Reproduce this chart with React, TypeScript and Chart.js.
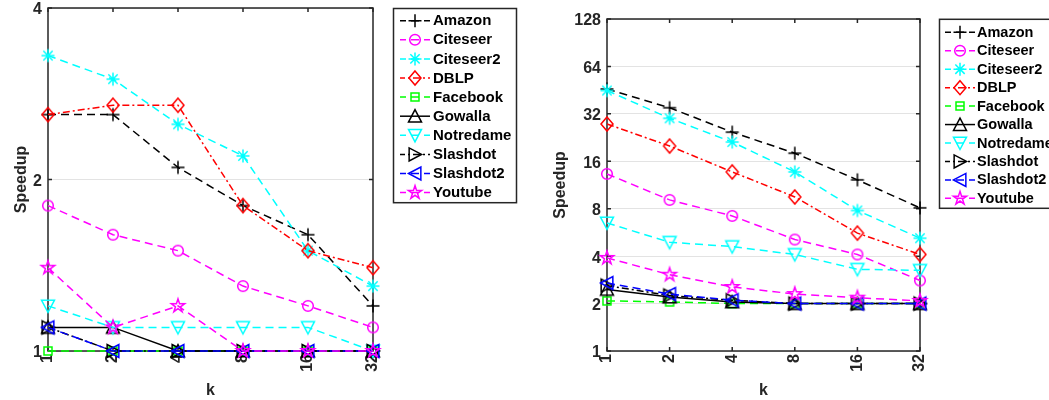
import React, { useEffect, useRef } from 'react';
import { Chart, registerables } from 'chart.js';

Chart.register(...registerables);

// ---------------- data ----------------
const kLabels = ['1', '2', '4', '8', '16', '32'];
const seriesNames = ['Amazon', 'Citeseer', 'Citeseer2', 'DBLP', 'Facebook', 'Gowalla', 'Notredame', 'Slashdot', 'Slashdot2', 'Youtube'];

// left panel (speedup)
const leftAmazon = [2.6, 2.6, 2.1, 1.8, 1.6, 1.2];
const leftCiteseer = [1.8, 1.6, 1.5, 1.3, 1.2, 1.1];
const leftCiteseer2 = [3.3, 3.0, 2.5, 2.2, 1.5, 1.3];
const leftDBLP = [2.6, 2.7, 2.7, 1.8, 1.5, 1.4];
const leftFacebook = [1, 1, 1, 1, 1, 1];
const leftGowalla = [1.1, 1.1, 1, 1, 1, 1];
const leftNotredame = [1.2, 1.1, 1.1, 1.1, 1.1, 1.0];
const leftSlashdot = [1.1, 1, 1, 1, 1, 1];
const leftSlashdot2 = [1.1, 1, 1, 1, 1, 1];
const leftYoutube = [1.4, 1.1, 1.2, 1, 1, 1];

// right panel (speedup)
const rightAmazon = [46, 35, 24.5, 18, 12.2, 8.1];
const rightCiteseer = [13.3, 9.1, 7.2, 5.1, 4.1, 2.8];
const rightCiteseer2 = [45, 30, 21.2, 13.7, 7.8, 5.2];
const rightDBLP = [27.6, 20, 13.7, 9.5, 5.6, 4.1];
const rightFacebook = [2.08, 2.05, 2.0, 2.0, 2.0, 2.0];
const rightGowalla = [2.46, 2.2, 2.05, 2, 2, 2];
const rightNotredame = [6.5, 4.9, 4.6, 4.1, 3.3, 3.25];
const rightSlashdot = [2.6, 2.25, 2.1, 2, 2, 2];
const rightSlashdot2 = [2.7, 2.3, 2.1, 2, 2, 2];
const rightYoutube = [3.9, 3.05, 2.55, 2.3, 2.18, 2.08];

const leftYTicks = [1, 2, 4];
const rightYTicks = [1, 2, 4, 8, 16, 32, 64, 128];

// ---------------- styles ----------------
const seriesColors = ['#000000', '#ff00ff', '#00ffff', '#ff0000', '#00ff00', '#000000', '#00ffff', '#000000', '#0000ff', '#ff00ff'];
const seriesLineStyles = ['--', '--', '--', '-.', '--', '-', '--', '-.', '--', '--'];
const seriesMarkers = ['+', 'o', '*', 'd', 's', '^', 'v', '>', '<', 'p'];

const FONT_FAMILY = '"Liberation Sans", Arial, Helvetica, sans-serif';
const AXIS_COLOR = '#262626';
const GRID_COLOR = '#e3e3e3';

function dashFor(style: string): number[] {
  if (style === '--') return [8, 5];
  if (style === '-.') return [7, 3, 2, 3];
  return [];
}

function drawMarker(ctx: CanvasRenderingContext2D, kind: string, x: number, y: number, color: string) {
  ctx.save();
  ctx.strokeStyle = color;
  ctx.lineWidth = 1.5;
  ctx.setLineDash([]);
  ctx.lineJoin = 'miter';
  ctx.beginPath();
  switch (kind) {
    case '+': {
      const r = 6.5;
      ctx.moveTo(x - r, y); ctx.lineTo(x + r, y);
      ctx.moveTo(x, y - r); ctx.lineTo(x, y + r);
      break;
    }
    case 'o': {
      ctx.arc(x, y, 5.3, 0, Math.PI * 2);
      break;
    }
    case '*': {
      const r = 6.5; const d = r * 0.72;
      ctx.moveTo(x - r, y); ctx.lineTo(x + r, y);
      ctx.moveTo(x, y - r); ctx.lineTo(x, y + r);
      ctx.moveTo(x - d, y - d); ctx.lineTo(x + d, y + d);
      ctx.moveTo(x - d, y + d); ctx.lineTo(x + d, y - d);
      break;
    }
    case 'd': {
      const w = 6, h = 7;
      ctx.moveTo(x, y - h); ctx.lineTo(x + w, y); ctx.lineTo(x, y + h); ctx.lineTo(x - w, y); ctx.closePath();
      break;
    }
    case 's': {
      const h = 4;
      ctx.rect(x - h, y - h, 2 * h, 2 * h);
      break;
    }
    case '^': {
      const r = 6.5;
      ctx.moveTo(x, y - r); ctx.lineTo(x + r, y + r * 0.9); ctx.lineTo(x - r, y + r * 0.9); ctx.closePath();
      break;
    }
    case 'v': {
      const r = 6.5;
      ctx.moveTo(x, y + r); ctx.lineTo(x + r, y - r * 0.9); ctx.lineTo(x - r, y - r * 0.9); ctx.closePath();
      break;
    }
    case '>': {
      const r = 6.5;
      ctx.moveTo(x + r, y); ctx.lineTo(x - r * 0.9, y - r); ctx.lineTo(x - r * 0.9, y + r); ctx.closePath();
      break;
    }
    case '<': {
      const r = 6.5;
      ctx.moveTo(x - r, y); ctx.lineTo(x + r * 0.9, y - r); ctx.lineTo(x + r * 0.9, y + r); ctx.closePath();
      break;
    }
    case 'p': {
      const R = 7; const rr = R * 0.382;
      for (let i = 0; i < 10; i++) {
        const ang = -Math.PI / 2 + (i * Math.PI) / 5;
        const rad = i % 2 === 0 ? R : rr;
        const px = x + rad * Math.cos(ang);
        const py = y + rad * Math.sin(ang);
        if (i === 0) ctx.moveTo(px, py); else ctx.lineTo(px, py);
      }
      ctx.closePath();
      break;
    }
  }
  ctx.stroke();
  ctx.restore();
}

function makeMarkerImage(kind: string, color: string): HTMLCanvasElement {
  const c = document.createElement('canvas');
  c.width = 20; c.height = 20;
  const ctx = c.getContext('2d')!;
  drawMarker(ctx, kind, 10, 10, color);
  return c;
}

const boxPlugin = {
  id: 'matlabBox',
  beforeDatasetsDraw(chart: any) {
    const { ctx, chartArea } = chart;
    const { left, right, top, bottom } = chartArea;
    const xs = chart.scales.x;
    const ys = chart.scales.y;
    ctx.save();
    ctx.strokeStyle = AXIS_COLOR;
    ctx.lineWidth = 1.5;
    ctx.setLineDash([]);
    ctx.strokeRect(left, top, right - left, bottom - top);
    ctx.beginPath();
    const tl = 4;
    for (let i = 0; i < xs.ticks.length; i++) {
      const x = xs.getPixelForTick(i);
      ctx.moveTo(x, bottom); ctx.lineTo(x, bottom - tl);
      ctx.moveTo(x, top); ctx.lineTo(x, top + tl);
    }
    for (const t of ys.ticks) {
      const y = ys.getPixelForValue(t.value);
      ctx.moveTo(left, y); ctx.lineTo(left + tl, y);
      ctx.moveTo(right, y); ctx.lineTo(right - tl, y);
    }
    ctx.stroke();
    ctx.restore();
  },
};

interface LegendCfg {
  boxX: number; boxY: number; boxW: number; boxH: number;
  rowY0: number; rowDy: number; lineX0: number; lineX1: number; markerX: number; textX: number; fontSize: number;
}

function legendPlugin(cfg: LegendCfg) {
  return {
    id: 'matlabLegend',
    afterDraw(chart: any) {
      const ctx: CanvasRenderingContext2D = chart.ctx;
      ctx.save();
      ctx.fillStyle = '#ffffff';
      ctx.fillRect(cfg.boxX, cfg.boxY, cfg.boxW, cfg.boxH);
      ctx.strokeStyle = AXIS_COLOR;
      ctx.lineWidth = 1.5;
      ctx.setLineDash([]);
      ctx.strokeRect(cfg.boxX, cfg.boxY, cfg.boxW, cfg.boxH);
      seriesNames.forEach((name, i) => {
        const y = cfg.rowY0 + i * cfg.rowDy;
        ctx.save();
        ctx.strokeStyle = seriesColors[i];
        ctx.lineWidth = 1.5;
        ctx.setLineDash(dashFor(seriesLineStyles[i]));
        ctx.lineDashOffset = 2;
        ctx.beginPath();
        ctx.moveTo(cfg.lineX0, y); ctx.lineTo(cfg.lineX1, y);
        ctx.stroke();
        ctx.restore();
        drawMarker(ctx, seriesMarkers[i], cfg.markerX, y, seriesColors[i]);
        ctx.fillStyle = '#000000';
        ctx.font = `bold ${cfg.fontSize}px ${FONT_FAMILY}`;
        ctx.textBaseline = 'middle';
        ctx.textAlign = 'left';
        ctx.fillText(name, cfg.textX, y + 0.5);
      });
      ctx.restore();
    },
  };
}

interface PanelCfg {
  series: number[][];
  yMax: number;
  yTicks: number[];
  padTop: number;
  padRight: number;
  yW: number;
  xH: number;
  titlePad: number;
  legend: LegendCfg;
}

function makeChart(canvas: HTMLCanvasElement, cfg: PanelCfg) {
  const font = { family: FONT_FAMILY, size: 16, weight: 'bold' as const };
  const markerImgs = seriesMarkers.map((m, i) => makeMarkerImage(m, seriesColors[i]));
  return new Chart(canvas, {
    type: 'line',
    data: {
      labels: kLabels,
      datasets: cfg.series.map((vals, i) => ({
        label: seriesNames[i],
        data: vals,
        borderColor: seriesColors[i],
        backgroundColor: seriesColors[i],
        borderWidth: 1.5,
        borderDash: dashFor(seriesLineStyles[i]),
        pointStyle: markerImgs[i],
        pointRadius: 6,
        pointHoverRadius: 6,
        fill: false,
        tension: 0,
        clip: false,
        order: seriesNames.length - i,
      })),
    },
    options: {
      responsive: false,
      animation: false,
      events: [],
      layout: { padding: { left: 0, top: cfg.padTop, right: cfg.padRight, bottom: 0 } },
      plugins: { legend: { display: false }, tooltip: { enabled: false } },
      scales: {
        x: {
          type: 'category',
          offset: false,
          grid: { display: false, drawTicks: false },
          border: { display: false },
          ticks: { minRotation: 90, maxRotation: 90, autoSkip: false, padding: 3, font, color: AXIS_COLOR },
          title: { display: true, text: 'k', font, color: AXIS_COLOR, padding: { top: 0, bottom: 0 } },
          afterFit: (s: any) => { s.height = cfg.xH; s.paddingLeft = 0; s.paddingRight = 0; },
        },
        y: {
          type: 'logarithmic',
          min: 1,
          max: cfg.yMax,
          grid: { color: GRID_COLOR, drawTicks: false, lineWidth: 1 },
          border: { display: false },
          ticks: { padding: 6, labelOffset: 2, font, color: AXIS_COLOR, autoSkip: false, callback: (v: any) => String(v) },
          afterBuildTicks: (s: any) => { s.ticks = cfg.yTicks.map((v) => ({ value: v })); },
          title: { display: true, text: 'Speedup', font, color: AXIS_COLOR, padding: { top: cfg.titlePad, bottom: 0 } },
          afterFit: (s: any) => { s.width = cfg.yW; s.paddingTop = 0; s.paddingBottom = 0; },
        },
      },
    } as any,
    plugins: [boxPlugin, legendPlugin(cfg.legend)],
  });
}

function Panel({ left, width, cfg }: { left: number; width: number; cfg: PanelCfg }) {
  const ref = useRef<HTMLCanvasElement>(null);
  useEffect(() => {
    if (!ref.current) return;
    const chart = makeChart(ref.current, cfg);
    return () => chart.destroy();
  }, []);
  return (
    <canvas
      ref={ref}
      width={width}
      height={400}
      style={{ position: 'absolute', left, top: 0, width, height: 400 }}
    />
  );
}

const leftCfg: PanelCfg = {
  series: [leftAmazon, leftCiteseer, leftCiteseer2, leftDBLP, leftFacebook, leftGowalla, leftNotredame, leftSlashdot, leftSlashdot2, leftYoutube],
  yMax: 4,
  yTicks: leftYTicks,
  padTop: 8,
  padRight: 147,
  yW: 48,
  xH: 49,
  titlePad: 12,
  legend: { boxX: 393.5, boxY: 8.5, boxW: 123, boxH: 194.2, rowY0: 20.7, rowDy: 19.1, lineX0: 400, lineX1: 430, markerX: 415, textX: 433, fontSize: 15 },
};

const rightCfg: PanelCfg = {
  series: [rightAmazon, rightCiteseer, rightCiteseer2, rightDBLP, rightFacebook, rightGowalla, rightNotredame, rightSlashdot, rightSlashdot2, rightYoutube],
  yMax: 128,
  yTicks: rightYTicks,
  padTop: 19,
  padRight: 129,
  yW: 87,
  xH: 49,
  titlePad: 30.9,
  legend: { boxX: 419.5, boxY: 19.3, boxW: 130, boxH: 189, rowY0: 32.3, rowDy: 18.45, lineX0: 425, lineX1: 455, markerX: 440, textX: 457, fontSize: 14.5 },
};

export default function App() {
  return (
    <div style={{ position: 'absolute', left: 0, top: 0, width: 1049, height: 400, background: '#ffffff', overflow: 'hidden' }}>
      <Panel left={0} width={520} cfg={leftCfg} />
      <Panel left={520} width={529} cfg={rightCfg} />
    </div>
  );
}
